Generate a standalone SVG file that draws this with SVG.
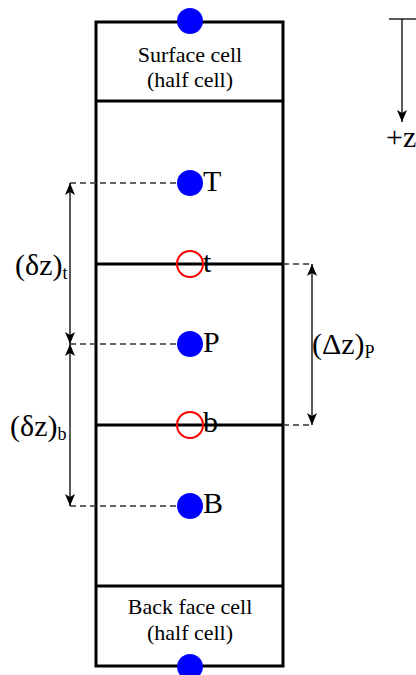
<svg xmlns="http://www.w3.org/2000/svg" width="416" height="675" viewBox="0 0 416 675">
<style>
.cell{fill:none;stroke:#000;stroke-width:3}
.dash{stroke:#333;stroke-width:1.3;stroke-dasharray:6,4;fill:none}
.dim{stroke:#000;stroke-width:1.3;fill:none}
.node{fill:#0000ff}
.face{fill:none;stroke:#ff0000;stroke-width:2}
text{font-family:"Liberation Serif","Times New Roman",serif;fill:#000}
.lbl{font-size:22px}
.pt{font-size:30px}
.dz{font-size:30px}
.sub{font-size:18px}
</style>
<defs>
<marker id="ah" viewBox="0 0 12 10" refX="12" refY="5" markerWidth="12" markerHeight="10" markerUnits="userSpaceOnUse" orient="auto-start-reverse">
<path d="M0,0 L12,5 L0,10 L3,5 Z" fill="#000"/>
</marker>
</defs>
<g id="column">
<rect class="cell" x="96" y="22" width="187" height="644"/>
<line class="cell" x1="96" y1="101" x2="283" y2="101"/>
<line class="cell" x1="96" y1="264" x2="283" y2="264"/>
<line class="cell" x1="96" y1="425" x2="283" y2="425"/>
<line class="cell" x1="96" y1="586" x2="283" y2="586"/>
</g>
<g id="connectors">
<line class="dash" x1="70" y1="183" x2="190" y2="183"/>
<line class="dash" x1="70" y1="344" x2="190" y2="344"/>
<line class="dash" x1="70" y1="506" x2="190" y2="506"/>
<line class="dash" x1="283" y1="264" x2="312" y2="264"/>
<line class="dash" x1="283" y1="425" x2="312" y2="425"/>
<line class="dim" x1="70" y1="183" x2="70" y2="344" marker-start="url(#ah)" marker-end="url(#ah)"/>
<line class="dim" x1="70" y1="344" x2="70" y2="506" marker-start="url(#ah)" marker-end="url(#ah)"/>
<line class="dim" x1="312" y1="264" x2="312" y2="425" marker-start="url(#ah)" marker-end="url(#ah)"/>
<line class="dim" x1="389" y1="19" x2="416" y2="19"/>
<line class="dim" x1="402" y1="19" x2="402" y2="122" marker-end="url(#ah)"/>
</g>
<g id="surface">
<circle class="node" cx="190" cy="21" r="13"/>
<text class="lbl" x="190" y="62" text-anchor="middle">Surface cell</text>
<text class="lbl" x="190" y="87" text-anchor="middle">(half cell)</text>
</g>
<g id="backface">
<text class="lbl" x="190" y="614" text-anchor="middle">Back face cell</text>
<text class="lbl" x="190" y="640" text-anchor="middle">(half cell)</text>
<circle class="node" cx="190" cy="667" r="13"/>
</g>
<g id="T"><circle class="node" cx="190" cy="183" r="13"/><text class="pt" x="203" y="191">T</text></g>
<g id="t"><circle class="face" cx="190" cy="264" r="13"/><text class="pt" x="203" y="272">t</text></g>
<g id="P"><circle class="node" cx="190" cy="344" r="13"/><text class="pt" x="203" y="352">P</text></g>
<g id="b"><circle class="face" cx="190" cy="425" r="13"/><text class="pt" x="203" y="432">b</text></g>
<g id="B"><circle class="node" cx="190" cy="506" r="13"/><text class="pt" x="203" y="513">B</text></g>
<g id="labels">
<text class="dz" x="15" y="275">(δz)<tspan class="sub" dy="4">t</tspan></text>
<text class="dz" x="10" y="436">(δz)<tspan class="sub" dy="4">b</tspan></text>
<text class="dz" x="312" y="354">(Δz)<tspan class="sub" dy="4">P</tspan></text>
<text class="pt" x="386" y="147">+z</text>
</g>
</svg>
